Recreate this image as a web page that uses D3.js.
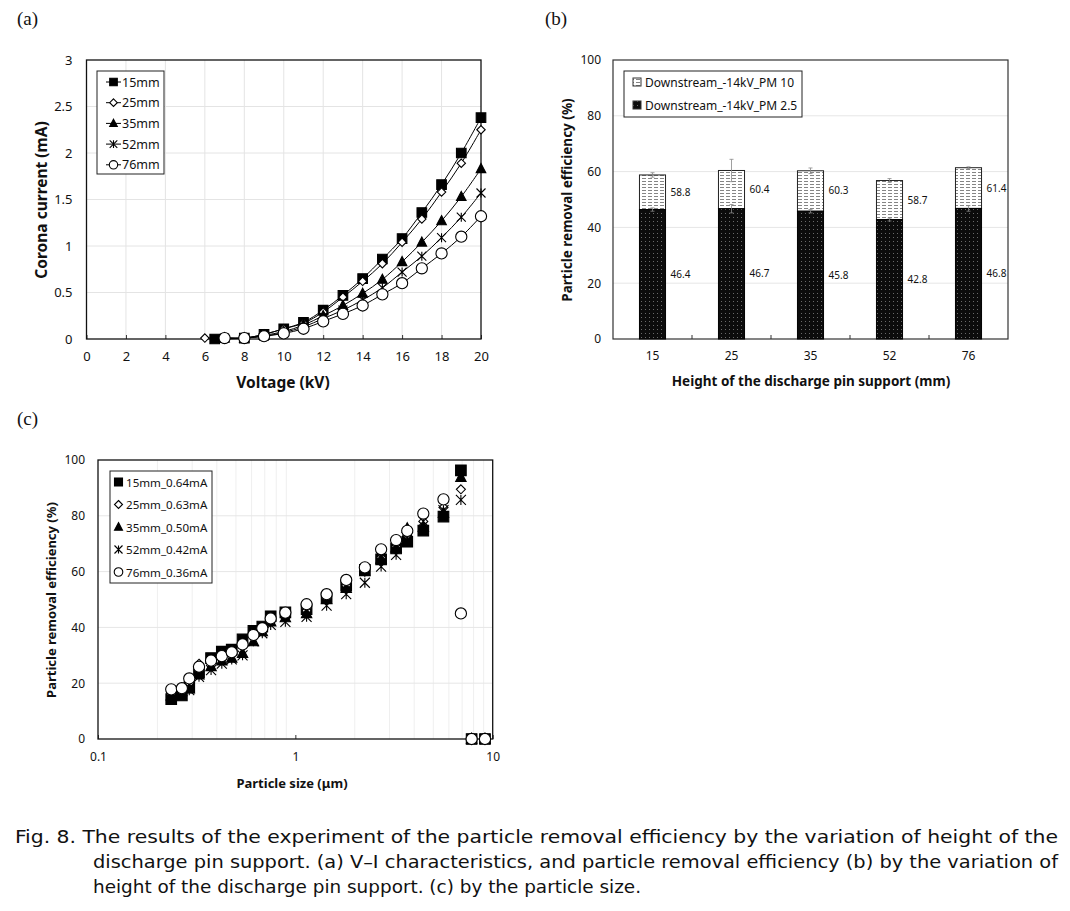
<!DOCTYPE html>
<html><head><meta charset="utf-8">
<script src="https://cdn.jsdelivr.net/npm/d3@7"></script>
<style>
body{margin:0;background:#fff}
svg{display:block}
text{font-family:"Noto Sans","Open Sans",sans-serif;fill:#111}
</style>
</head><body>
<svg id="c" width="1070" height="911"></svg>
<script>
// ---------- Panel (a) data : V-I characteristics ----------
const seriesA = ["15mm","25mm","35mm","52mm","76mm"];
const markerTypes = ["square","diamond","triangle","star","circle"];
const volt15 = [6.5,8,9,10,11,12,13,14,15,16,17,18,19,20];
const curr15 = [0,0.01,0.05,0.11,0.18,0.31,0.47,0.65,0.86,1.08,1.36,1.66,2.0,2.38];
const volt25 = [6,7,8,9,10,11,12,13,14,15,16,17,18,19,20];
const curr25 = [0.01,0.01,0.01,0.05,0.11,0.17,0.29,0.45,0.62,0.81,1.04,1.29,1.58,1.89,2.25];
const volt35 = [7,8,9,10,11,12,13,14,15,16,17,18,19,20];
const curr35 = [0.01,0.01,0.04,0.08,0.15,0.25,0.36,0.49,0.64,0.83,1.04,1.27,1.53,1.83];
const volt52 = [7,8,9,10,11,12,13,14,15,16,17,18,19,20];
const curr52 = [0.01,0.01,0.03,0.07,0.13,0.22,0.31,0.42,0.55,0.72,0.89,1.09,1.31,1.57];
const volt76 = [7,8,9,10,11,12,13,14,15,16,17,18,19,20];
const curr76 = [0.01,0.01,0.03,0.06,0.11,0.19,0.27,0.36,0.48,0.60,0.76,0.92,1.10,1.32];
const xTicksA = [0,2,4,6,8,10,12,14,16,18,20];
const yTicksA = [0,0.5,1,1.5,2,2.5,3];

// ---------- Panel (b) data : removal efficiency by height ----------
const heights = ["15","25","35","52","76"];
const pm25 = [46.4,46.7,45.8,42.8,46.8];
const pm10 = [58.8,60.4,60.3,56.8,61.4];
const pm10Labels = ["58.8","60.4","60.3","58.7","61.4"];
const pm25Labels = ["46.4","46.7","45.8","42.8","46.8"];
const pm10Err = [0.8,4.0,1.0,0.7,0.3];
const pm25Err = [0.6,1.5,0.6,0.5,1.0];
const legendB = ["Downstream_-14kV_PM 10","Downstream_-14kV_PM 2.5"];
const yTicksB = [0,20,40,60,80,100];

// ---------- Panel (c) data : efficiency by particle size ----------
const seriesC = ["15mm_0.64mA","25mm_0.63mA","35mm_0.50mA","52mm_0.42mA","76mm_0.36mA"];
const sizes = [0.235,0.266,0.29,0.325,0.374,0.424,0.476,0.54,0.613,0.68,0.75,0.89,1.14,1.44,1.81,2.25,2.72,3.24,3.69,4.45,5.63,6.9,7.82,9.14];
const eff15 = [14.3,15.6,18.5,24,29,31.3,32,35.7,38.8,40.3,44,45.4,46.5,50.5,55,60.6,64.4,68.3,70.7,74.7,79.7,96.3,0,0];
const eff25 = [16,18,20,27,27.5,30.5,32,33.5,37,39,42,43.5,46,50,55,60,65,69,73,78,83,89.5,0,0];
const eff35 = [15.5,17,18,23,26,28,29,30.7,34.9,38.5,42,43.5,45,50,54,60,64.5,68.5,75.5,76,81,93.8,0,0];
const eff52 = [15,16,17.5,22.3,24.7,27,28.5,30,35,37.9,40.9,42,43.8,47.8,51.9,56,61.8,66,72,78,82,85.7,0,0];
const eff76 = [17.8,18.2,21.7,25.9,28.1,29.7,31.1,33.9,37.3,39.7,43.2,45.3,48.3,51.9,57,61.5,68,71.3,74.6,80.8,85.9,45,0,0];
const xTicksC = [0.1,1,10];
const yTicksC = [0,20,40,60,80,100];

const captionLines = [
  "Fig. 8. The results of the experiment of the particle removal efficiency by the variation of height of the",
  "discharge pin support. (a) V–I characteristics, and particle removal efficiency (b) by the variation of",
  "height of the discharge pin support. (c) by the particle size."
];

// ---------- helpers ----------
const svg = d3.select("#c");
function mpath(type, s){
  switch(type){
    case "square": return `M${-s},${-s}H${s}V${s}H${-s}Z`;
    case "diamond": return `M0,${-s}L${s},0L0,${s}L${-s},0Z`;
    case "triangle": return `M0,${-s*1.1}L${s},${s*0.8}L${-s},${s*0.8}Z`;
    case "star": return `M${-s},${-s}L${s},${s}M${-s},${s}L${s},${-s}M0,${-s}V${s}`;
    case "circle": return d3.symbol(d3.symbolCircle, Math.PI*s*s)();
  }
}
const mfill = {square:"#000",diamond:"#fff",triangle:"#000",star:"none",circle:"#fff"};
function drawMarker(g, type, x, y, s){
  g.append("path").attr("d", mpath(type,s)).attr("transform",`translate(${x},${y})`)
    .attr("fill", mfill[type]).attr("stroke","#000").attr("stroke-width",1.1);
}

// ---------- Panel (a) ----------
{
  const x = d3.scaleLinear().domain([0,20]).range([86.5,481]);
  const y = d3.scaleLinear().domain([0,3]).range([339,60]);
  const g = svg.append("g");
  g.append("g").selectAll("line").data(xTicksA.slice(1,-1)).join("line")
    .attr("x1",d=>x(d)).attr("x2",d=>x(d)).attr("y1",60).attr("y2",339).attr("stroke","#e4e4e4");
  g.append("g").selectAll("line").data(yTicksA.slice(1,-1)).join("line")
    .attr("y1",d=>y(d)).attr("y2",d=>y(d)).attr("x1",86.5).attr("x2",481).attr("stroke","#e4e4e4");
  const xa = g.append("g").attr("transform","translate(0,339)")
    .call(d3.axisBottom(x).tickValues(xTicksA).tickSize(-4).tickPadding(13).tickFormat(d3.format("d")));
  const ya = g.append("g").attr("transform","translate(86.5,0)")
    .call(d3.axisLeft(y).tickValues(yTicksA).tickSize(0).tickPadding(14).tickFormat(d=>String(d)));
  [xa,ya].forEach(a=>{a.select(".domain").remove();a.selectAll("text").attr("font-size",13).attr("fill","#222").attr("font-family","Noto Sans");a.selectAll("line").attr("stroke","#333");});
  g.append("rect").attr("x",86.5).attr("y",60).attr("width",481-86.5).attr("height",279)
    .attr("fill","none").attr("stroke","#111").attr("stroke-width",1.3);
  const xs=[volt15,volt25,volt35,volt52,volt76], ys=[curr15,curr25,curr35,curr52,curr76];
  const line = d3.line().x(d=>x(d[0])).y(d=>y(d[1])).curve(d3.curveCatmullRom.alpha(0.5));
  const sz={square:4.8,diamond:4.2,triangle:4.8,star:4.5,circle:5.6};
  seriesA.forEach((n,i)=>{
    const pts = xs[i].map((v,j)=>[v,ys[i][j]]);
    g.append("path").attr("d",line(pts)).attr("fill","none").attr("stroke","#000").attr("stroke-width",1);
  });
  seriesA.forEach((n,i)=>{
    const mg = g.append("g");
    xs[i].forEach((v,j)=>drawMarker(mg, markerTypes[i], x(v), y(ys[i][j]), sz[markerTypes[i]]));
  });
  // legend
  const lg = g.append("g");
  lg.append("rect").attr("x",97).attr("y",71).attr("width",67).attr("height",103).attr("fill","#fff").attr("stroke","#222");
  seriesA.forEach((n,i)=>{
    const yy = 82 + i*20.7;
    lg.append("line").attr("x1",106).attr("x2",121).attr("y1",yy).attr("y2",yy).attr("stroke","#000");
    drawMarker(lg, markerTypes[i], 113.5, yy, markerTypes[i]==="circle"?4.2:3.8);
    lg.append("text").attr("x",122).attr("y",yy+4.5).attr("font-size",12.5).text(n);
  });
  g.append("text").attr("x",283).attr("y",388).attr("text-anchor","middle").attr("font-size",15.5).attr("font-weight","bold").text("Voltage (kV)");
  g.append("text").attr("transform","translate(47,200) rotate(-90)").attr("text-anchor","middle").attr("font-size",15.5).attr("font-weight","bold").text("Corona current (mA)");
  svg.append("text").attr("x",17).attr("y",25).attr("font-size",19).style("font-family","Liberation Serif").text("(a)");
}

// ---------- Panel (b) ----------
{
  const defs = svg.append("defs");
  const p10 = defs.append("pattern").attr("id","p10").attr("patternUnits","userSpaceOnUse").attr("width",6).attr("height",3);
  p10.append("rect").attr("width",6).attr("height",3).attr("fill","#fff");
  p10.append("line").attr("x1",0).attr("x2",4).attr("y1",1.5).attr("y2",1.5).attr("stroke","#777").attr("stroke-width",0.9);
  const p25 = defs.append("pattern").attr("id","p25").attr("patternUnits","userSpaceOnUse").attr("width",4).attr("height",4);
  p25.append("rect").attr("width",4).attr("height",4).attr("fill","#0c0c0c");
  p25.append("rect").attr("x",1).attr("y",1).attr("width",1).attr("height",1).attr("fill","#6a6a6a");

  const x = d3.scaleBand().domain(heights).range([613,1008]).paddingInner(0.67).paddingOuter(0.335);
  const y = d3.scaleLinear().domain([0,100]).range([339,60]);
  const g = svg.append("g");
  g.append("g").selectAll("line").data(yTicksB.slice(1,-1)).join("line")
    .attr("y1",d=>y(d)).attr("y2",d=>y(d)).attr("x1",613).attr("x2",1008).attr("stroke","#e6e6e6");
  const ya = g.append("g").attr("transform","translate(613,0)")
    .call(d3.axisLeft(y).tickValues(yTicksB).tickSize(0).tickPadding(12));
  const xa = g.append("g").attr("transform","translate(0,339)")
    .call(d3.axisBottom(x).tickSize(0).tickPadding(12));
  [xa,ya].forEach(a=>{a.select(".domain").remove();a.selectAll("text").attr("font-size",12).attr("fill","#222").attr("font-family","Noto Sans");});
  // category boundary ticks
  const step = x.step();
  g.append("g").selectAll("line").data(heights.slice(1)).join("line")
    .attr("x1",d=>x(d)-x.paddingInner()*step/2).attr("x2",d=>x(d)-x.paddingInner()*step/2)
    .attr("y1",339).attr("y2",335).attr("stroke","#333");
  g.append("rect").attr("x",613).attr("y",60).attr("width",395).attr("height",279)
    .attr("fill","none").attr("stroke","#333").attr("stroke-width",1.2);
  const bw = x.bandwidth();
  heights.forEach((h,i)=>{
    const bx = x(h);
    g.append("rect").attr("x",bx).attr("y",y(pm10[i])).attr("width",bw).attr("height",y(pm25[i])-y(pm10[i]))
      .attr("fill","url(#p10)").attr("stroke","#222").attr("stroke-width",1);
    g.append("rect").attr("x",bx).attr("y",y(pm25[i])).attr("width",bw).attr("height",y(0)-y(pm25[i]))
      .attr("fill","url(#p25)").attr("stroke","#000").attr("stroke-width",1);
    const cx = bx+bw/2;
    [[pm10[i],pm10Err[i]],[pm25[i],pm25Err[i]]].forEach(([v,e])=>{
      g.append("line").attr("x1",cx).attr("x2",cx).attr("y1",y(v+e)).attr("y2",y(v-e)).attr("stroke","#888").attr("stroke-width",0.8);
      g.append("line").attr("x1",cx-2).attr("x2",cx+2).attr("y1",y(v+e)).attr("y2",y(v+e)).attr("stroke","#888").attr("stroke-width",0.8);
      g.append("line").attr("x1",cx-2).attr("x2",cx+2).attr("y1",y(v-e)).attr("y2",y(v-e)).attr("stroke","#888").attr("stroke-width",0.8);
    });
    g.append("text").attr("x",bx+bw+5).attr("y",y((pm10[i]+pm25[i])/2)+3.5).attr("font-size",10).text(pm10Labels[i]);
    g.append("text").attr("x",bx+bw+5).attr("y",y(pm25[i]/2)+3.5).attr("font-size",10).text(pm25Labels[i]);
  });
  const lg = g.append("g");
  lg.append("rect").attr("x",624).attr("y",71).attr("width",178).attr("height",46).attr("fill","#fff").attr("stroke","#222");
  ["url(#p10)","url(#p25)"].forEach((f,i)=>{
    const yy = 82 + i*23;
    lg.append("rect").attr("x",633).attr("y",yy-4).attr("width",8).attr("height",8).attr("fill",f).attr("stroke","#333");
    lg.append("text").attr("x",645).attr("y",yy+4.5).attr("font-size",12).text(legendB[i]);
  });
  g.append("text").attr("x",811).attr("y",386).attr("text-anchor","middle").attr("font-size",13.5).attr("font-weight","bold").text("Height of the discharge pin support (mm)");
  g.append("text").attr("transform","translate(572,200) rotate(-90)").attr("text-anchor","middle").attr("font-size",13.5).attr("font-weight","bold").text("Particle removal efficiency (%)");
  svg.append("text").attr("x",545).attr("y",25).attr("font-size",19).style("font-family","Liberation Serif").text("(b)");
}

// ---------- Panel (c) ----------
{
  const x = d3.scaleLog().domain([0.1,10]).range([98,492.7]);
  const y = d3.scaleLinear().domain([0,100]).range([739,460]);
  const g = svg.append("g");
  const minor = x.ticks().filter(d=>!xTicksC.includes(d));
  g.append("g").selectAll("line").data(minor).join("line")
    .attr("x1",d=>x(d)).attr("x2",d=>x(d)).attr("y1",460).attr("y2",739).attr("stroke","#efefef");
  g.append("g").selectAll("line").data(yTicksC.slice(1,-1)).join("line")
    .attr("y1",d=>y(d)).attr("y2",d=>y(d)).attr("x1",98).attr("x2",492.7).attr("stroke","#e6e6e6");
  const xa = g.append("g").attr("transform","translate(0,739)")
    .call(d3.axisBottom(x).tickValues(xTicksC).tickSize(-4).tickPadding(13).tickFormat(d=>String(d)));
  const ya = g.append("g").attr("transform","translate(98,0)")
    .call(d3.axisLeft(y).tickValues(yTicksC).tickSize(0).tickPadding(13));
  [xa,ya].forEach(a=>{a.select(".domain").remove();a.selectAll("text").attr("font-size",12).attr("fill","#222").attr("font-family","Noto Sans");a.selectAll("line").attr("stroke","#333");});
  g.append("rect").attr("x",98).attr("y",460).attr("width",394.7).attr("height",279)
    .attr("fill","none").attr("stroke","#111").attr("stroke-width",1.3);
  const effs=[eff15,eff25,eff35,eff52,eff76];
  const sz={square:5.3,diamond:4.5,triangle:5.2,star:5,circle:5.6};
  seriesC.forEach((n,i)=>{
    const mg=g.append("g");
    sizes.forEach((s,j)=>drawMarker(mg, markerTypes[i], x(s), y(effs[i][j]), sz[markerTypes[i]]));
  });
  const lg = g.append("g");
  lg.append("rect").attr("x",110).attr("y",471).attr("width",102).attr("height",112).attr("fill","#fff").attr("stroke","#222");
  seriesC.forEach((n,i)=>{
    const yy = 482 + i*22.5;
    drawMarker(lg, markerTypes[i], 118.5, yy, markerTypes[i]==="circle"?4.3:4);
    lg.append("text").attr("x",126).attr("y",yy+4.5).attr("font-size",11.6).text(n);
  });
  g.append("text").attr("x",292).attr("y",788).attr("text-anchor","middle").attr("font-size",13).attr("font-weight","bold").text("Particle size (μm)");
  g.append("text").attr("transform","translate(56,600) rotate(-90)").attr("text-anchor","middle").attr("font-size",13).attr("font-weight","bold").text("Particle removal efficiency (%)");
  svg.append("text").attr("x",17).attr("y",425).attr("font-size",19).style("font-family","Liberation Serif").text("(c)");
}

// ---------- Caption ----------
{
  const cap = svg.append("g");
  const specs = [[15,843,1043],[93,868,965],[93,893,548]];
  captionLines.forEach((t,i)=>{
    cap.append("text").attr("x",specs[i][0]).attr("y",specs[i][1]).attr("font-size",17)
      .attr("textLength",specs[i][2]).attr("lengthAdjust","spacingAndGlyphs")
      .style("font-family","DejaVu Sans Condensed, DejaVu Sans").attr("fill","#222").text(t);
  });
}
</script>
</body></html>
